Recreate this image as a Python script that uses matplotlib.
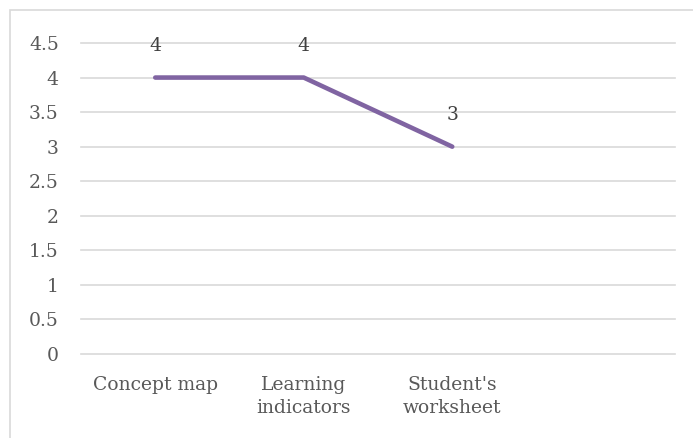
import matplotlib.pyplot as plt
from matplotlib.patches import Rectangle

categories = ["Concept map", "Learning\nindicators", "Student's\nworksheet", ""]
values = [4, 4, 3]
yticks = [0, 0.5, 1, 1.5, 2, 2.5, 3, 3.5, 4, 4.5]

plt.rcParams['font.family'] = ['DejaVu Serif']

fig = plt.figure(figsize=(6.93, 4.38), dpi=100)
ax = fig.add_axes([81/693, 1-354/438, (675-81)/693, (354-43)/438])

x = list(range(len(values)))
ax.plot(x, values, color="#8064A2", lw=3.3, solid_capstyle="round", zorder=3)
for xi, v in zip(x, values):
    ax.annotate(str(v), (xi, v), xytext=(0, 23), textcoords="offset points",
                ha="center", va="center", fontsize=13.5, color="#404040")

ax.set_xlim(-0.5, len(categories) - 0.5)
ax.set_ylim(0, 4.5)
ax.set_xticks(range(len(categories)))
ax.set_xticklabels(categories, fontsize=13.5, color="#595959", linespacing=1.35)
ax.set_yticks(yticks)
ax.set_yticklabels([f"{t:g}" for t in yticks], fontsize=13.5, color="#595959")
ax.tick_params(length=0)
ax.tick_params(axis="y", pad=16)
ax.tick_params(axis="x", pad=16)
ax.grid(axis="y", color="#d9d9d9", lw=1.2)
for gl in ax.get_ygridlines():
    gl.set_clip_on(False)
ax.set_axisbelow(True)
for s in ax.spines.values():
    s.set_visible(False)

fig.patches.append(Rectangle((10/693, -0.1), 1.2, 1 - 10/438 + 0.1, transform=fig.transFigure,
                             fill=False, edgecolor="#d9d9d9", lw=1.2, clip_on=False))

fig.savefig("out.png", dpi=100)
